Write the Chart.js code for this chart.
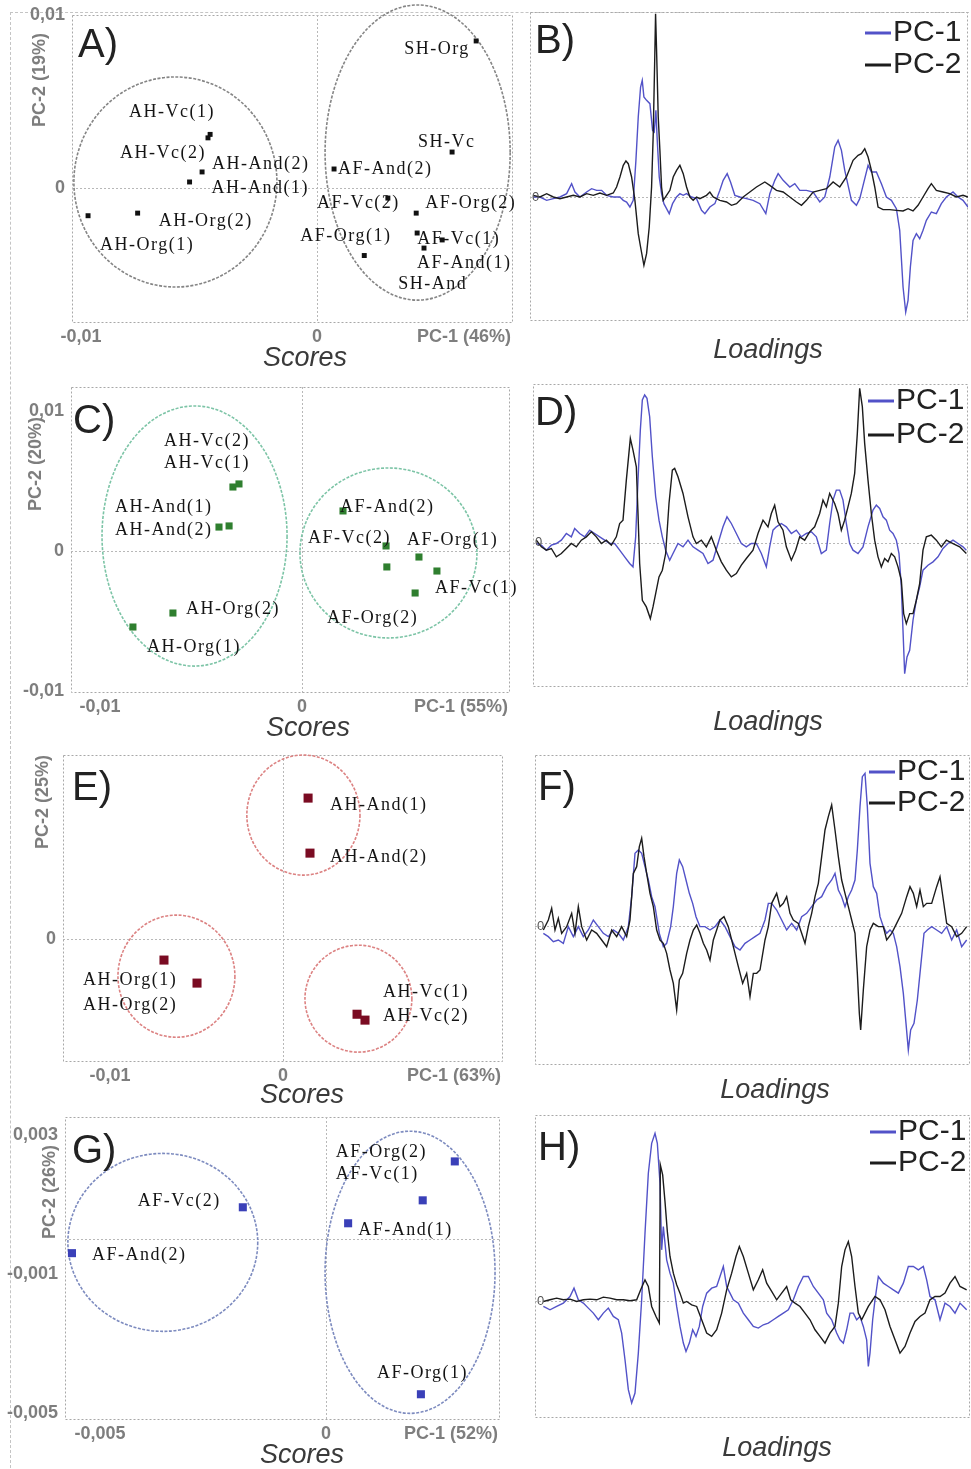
<!DOCTYPE html>
<html>
<head>
<meta charset="utf-8">
<title>PCA scores and loadings</title>
<script src="https://cdn.jsdelivr.net/npm/chart.js@4.4.1/dist/chart.umd.min.js"></script>
<style>
  body { margin: 0; background: #fff; }
  #fig { position: relative; width: 971px; height: 1469px; overflow: hidden; }
  #fig canvas { position: absolute; }
  #frame { position: absolute; left: 10px; top: 12px; width: 958px; height: 1460px;
           border-left: 1px dashed #c4c4c4; border-top: 1px dashed #c4c4c4; }
</style>
</head>
<body>
<div id="fig"><div id="frame"></div></div>
<script>
// ---------- scores (PC-1 / PC-2) ----------
const namesA = ['SH-Org', 'SH-Vc', 'AF-And(2)', 'AF-Vc(2)', 'AF-Org(2)', 'AF-Vc(1)', 'SH-And', 'AF-And(1)', 'AF-Org(1)',
                'AH-Vc(1)', 'AH-Vc(2)', 'AH-And(2)', 'AH-And(1)', 'AH-Org(2)', 'AH-Org(1)'];
const pc1A = [0.00674, 0.00572, 0.00072, 0.0030, 0.0042, 0.00424, 0.0053, 0.00453, 0.0020,
              -0.00453, -0.00462, -0.00487, -0.0054, -0.0076, -0.0097];
const pc2A = [0.0085, 0.00208, 0.0011, -0.00058, -0.00145, -0.0026, -0.0030, -0.00347, -0.0039,
              0.0031, 0.0029, 0.00093, 0.00035, -0.00145, -0.0016];
// confidence ellipses: [centre pc1, centre pc2, radius pc1, radius pc2]
const ellA = [[-0.006, 0.00035, 0.0043, 0.00607], [0.00426, 0.00205, 0.00392, 0.00853]];

const namesC = ['AH-Vc(2)', 'AH-Vc(1)', 'AH-And(1)', 'AH-And(2)', 'AH-Org(2)', 'AH-Org(1)',
                'AF-And(2)', 'AF-Vc(2)', 'AF-Org(1)', '', 'AF-Vc(1)', 'AF-Org(2)'];
const pc1C = [-0.00312, -0.00342, -0.00361, -0.00411, -0.00639, -0.00837,
              0.00203, 0.00416, 0.00579, 0.0042, 0.00668, 0.0056];
const pc2C = [0.00479, 0.00457, 0.00179, 0.00171, -0.00443, -0.00543,
              0.00286, 0.00036, -0.00043, -0.00114, -0.00143, -0.0030];
const ellC = [[-0.00532, 0.00107, 0.00458, 0.00929], [0.00428, -0.00014, 0.00438, 0.00607]];

const namesE = ['AH-And(1)', 'AH-And(2)', 'AH-Org(1)', 'AH-Org(2)', 'AH-Vc(1)', 'AH-Vc(2)'];
const pc1E = [0.00145, 0.00156, -0.00688, -0.00497, 0.00428, 0.00474];
const pc2E = [0.00815, 0.00497, -0.00121, -0.00254, -0.00434, -0.00468];
const ellE = [[0.00118, 0.00717, 0.00327, 0.00347], [-0.00616, -0.00214, 0.00338, 0.00353],
              [0.00436, -0.00344, 0.00309, 0.00309]];

const namesG = ['AF-Org(2)', 'AF-Vc(1)', 'AF-And(1)', 'AF-Vc(2)', 'AF-And(2)', 'AF-Org(1)'];
const pc1G = [0.00285, 0.00214, 0.00049, -0.00184, -0.00562, 0.0021];
const pc2G = [0.00224, 0.00112, 0.00046, 0.00092, -0.0004, -0.00446];
const ellG = [[-0.00361, -0.00009, 0.0021, 0.00256], [0.00186, -0.00095, 0.00188, 0.00406]];

// ---------- loadings (channel, loading x1000) ----------
const bPc1X = [40,60,80,100,120,140,155,165,180,200,215,230,245,260,280,300,310,320,330,340,348,355,362,367,372,380,390,398,403,408,
  412,418,425,432,440,448,458,470,480,490,500,515,530,545,555,570,585,600,610,622,632,645,660,680,700,720,738,750,765,775,
  790,810,825,840,860,880,900,915,930,945,955,965,975,985,995,1010,1020,1030,1045,1055,1070,1085,1100,1115,1130,1140,1150,1158,1165,1172,
  1180,1190,1200,1210,1220,1235,1250,1265,1280,1300,1315,1330,1345];
const bPc1 = [0,0,-10,-5,0,10,40,15,0,15,25,20,20,5,0,0,-10,-15,-30,-10,110,240,330,350,300,290,280,200,195,260,
  170,60,10,-20,-35,-50,-20,0,10,5,10,0,-5,-40,-50,-30,-20,20,50,70,45,5,0,-5,-10,-20,-50,10,50,70,
  50,30,40,20,20,15,-15,0,60,150,170,140,80,35,-10,-25,-5,35,95,75,75,40,0,-10,-35,-100,-270,-345,-310,-210,
  -130,-110,-125,-100,-70,-45,-50,-20,0,15,0,-10,-30];
const bPc2X = [40,60,80,100,120,140,160,180,200,220,240,260,280,290,300,310,318,325,335,345,355,362,372,380,388,395,400,404,407,410,
  415,420,425,430,440,450,460,470,480,490,500,510,520,530,540,560,570,580,600,620,635,650,670,690,710,735,750,770,790,810,
  830,845,860,880,900,920,940,960,980,1000,1015,1025,1035,1045,1055,1065,1075,1090,1110,1130,1150,1165,1180,1195,1210,1225,1235,1250,1270,1290,
  1310,1330,1345];
const bPc2 = [5,0,10,0,-5,0,5,0,10,5,12,5,12,30,60,95,108,100,60,-10,-110,-150,-205,-170,-90,30,190,390,550,440,
  240,140,30,-10,5,20,60,80,95,70,30,0,-10,0,-5,5,15,0,-10,-15,-25,-20,0,15,30,45,35,20,15,0,
  -15,-25,-10,15,20,25,45,30,60,110,125,130,145,120,80,30,-30,-38,-38,-40,-42,-35,-42,-25,0,25,40,20,15,10,
  0,5,0];

const dPc1X = [50,65,80,95,110,125,140,155,165,180,195,210,225,240,255,270,285,300,315,330,340,348,355,362,368,375,382,390,398,408,
  418,428,438,450,460,475,490,505,520,535,550,565,580,595,610,622,635,650,665,680,695,710,725,740,750,760,770,785,800,815,
  830,845,860,875,890,905,920,930,940,950,960,970,980,990,1000,1015,1030,1045,1060,1070,1080,1090,1100,1110,1120,1130,1138,1145,1150,1155,
  1162,1170,1180,1190,1200,1210,1225,1240,1255,1270,1285,1300,1315,1330,1340];
const dPc1 = [-3,-8,-23,-8,-3,7,27,17,42,27,17,37,27,17,7,-3,-3,-23,-43,-63,-73,17,187,337,427,442,432,377,257,137,
  67,17,-23,-53,-33,-3,-13,7,-13,-23,-33,-63,-53,-3,47,77,57,27,-3,-13,-3,-3,-33,-73,-13,37,47,57,47,27,
  37,17,27,32,17,-33,-23,57,127,157,157,127,57,-3,-23,-33,-13,47,97,112,102,77,67,37,27,7,-33,-133,-263,-393,
  -343,-323,-233,-173,-133,-83,-68,-58,-43,-18,-3,7,-3,-13,-23];
const dPc2X = [50,65,80,95,110,125,140,155,170,185,200,215,230,245,260,275,290,300,310,320,332,340,350,355,360,368,380,392,400,408,
  418,428,438,448,458,465,475,490,505,520,530,545,560,575,590,605,620,635,650,665,680,700,715,730,745,755,765,775,790,800,
  815,828,840,855,870,885,900,910,920,930,945,955,965,975,985,995,1005,1013,1020,1028,1035,1045,1055,1065,1075,1085,1095,1105,1115,1125,
  1135,1145,1152,1160,1170,1180,1190,1200,1210,1220,1235,1250,1265,1280,1300,1320,1340];
const dPc2 = [7,-13,-23,-18,-43,-33,-18,-3,-13,7,17,32,17,-3,7,-8,17,57,67,187,312,277,227,87,-63,-173,-193,-228,-193,-153,
  -103,-83,-33,117,217,222,197,147,77,17,-3,7,-13,17,-23,-58,-83,-103,-93,-68,-48,-23,27,67,47,87,112,62,37,-13,
  -53,-23,17,7,32,47,87,127,107,147,117,87,37,67,107,147,207,327,462,407,297,187,87,7,-43,-73,-48,-58,-33,-43,
  -73,-113,-213,-243,-213,-213,-173,-123,-23,17,22,7,-13,7,-3,-13,-33];

const fPc1X = [70,85,100,115,130,145,160,175,190,205,220,235,250,265,280,295,310,325,335,345,355,365,375,385,395,405,418,430,440,452,
  460,470,478,488,498,508,518,528,540,555,570,585,600,615,630,645,660,675,690,705,720,735,745,755,770,785,800,815,830,845,
  860,875,890,905,920,935,945,955,965,975,985,995,1005,1012,1020,1027,1035,1042,1050,1060,1070,1080,1090,1100,1110,1120,1130,1140,1150,1158,
  1165,1172,1182,1192,1202,1212,1222,1235,1250,1265,1280,1295,1310,1325,1340];
const fPc1 = [-22,-32,-47,-42,-52,-2,-32,-2,-32,-12,18,-2,-22,-32,-12,-22,-42,-2,88,218,228,218,178,138,88,58,-22,-62,-52,-2,
  58,158,198,178,138,98,68,28,-2,-2,-12,-2,18,-2,-32,-62,-72,-52,-42,-32,-22,18,68,68,48,18,-12,8,-12,28,
  38,58,78,88,118,138,158,108,88,58,88,108,138,228,358,448,458,358,188,118,98,28,-2,-22,-12,-22,-62,-122,-202,-292,
  -372,-312,-292,-222,-122,-22,-12,-2,-12,-22,-2,-42,-12,-62,-42];
const fPc2X = [70,85,95,105,115,125,140,155,165,175,185,200,215,230,245,260,275,290,305,320,330,340,350,358,365,372,380,390,400,410,
  420,430,440,450,460,470,478,488,500,510,520,530,540,550,560,570,580,590,600,612,625,640,655,668,680,690,700,710,720,735,
  745,755,770,780,790,800,810,820,835,845,855,865,875,885,895,905,915,925,935,945,955,965,975,985,995,1005,1012,1018,1022,1030,
  1040,1050,1060,1075,1090,1100,1115,1130,1145,1160,1170,1180,1190,1200,1210,1220,1235,1250,1260,1270,1280,1295,1310,1325,1340];
const fPc2 = [-12,18,53,-12,23,-22,-2,38,-22,58,-2,-42,-12,-22,-42,-62,-12,-32,-2,-32,18,158,178,238,263,208,158,98,58,-12,
  -42,-52,-82,-132,-172,-252,-162,-142,-82,-42,-12,3,-22,-52,-72,-102,-42,-12,18,28,-2,-62,-122,-172,-142,-212,-142,-142,-132,-42,
  -2,68,98,58,68,88,38,18,8,-22,-52,-2,38,88,128,208,288,328,363,288,208,138,98,58,18,-22,-142,-262,-312,-192,
  -62,-12,8,-2,-2,-42,-22,8,38,88,118,98,58,108,58,68,68,118,148,78,8,-2,-32,-22,-2];

const hPc1X = [70,90,110,130,150,162,175,190,205,220,235,250,265,280,295,305,315,325,335,345,355,365,375,385,395,405,412,420,425,430,
  440,450,460,470,480,490,498,508,518,528,538,548,560,575,590,600,610,620,630,640,655,670,685,700,715,730,745,760,775,790,
  805,820,835,850,865,880,895,910,920,935,950,960,970,980,990,1000,1010,1020,1030,1040,1045,1050,1058,1065,1075,1090,1105,1120,1135,1150,
  1165,1180,1195,1210,1220,1230,1245,1260,1275,1290,1305,1320,1340];
const hPc1 = [-15,-25,-15,-5,15,40,5,-5,-20,-35,-55,-35,-20,-45,-55,-95,-175,-265,-305,-275,-155,5,205,385,475,505,475,355,155,225,
  125,85,55,-15,-75,-125,-150,-125,-85,-105,-75,-15,25,40,45,75,105,45,25,5,-5,-35,-55,-75,-80,-70,-65,-55,-45,-35,
  -25,5,45,75,75,45,25,5,-35,-55,-95,-115,-125,-85,-35,-35,-55,-45,-75,-115,-195,-155,-55,5,75,55,45,35,25,55,
  105,105,95,105,65,15,5,-55,-5,-15,-35,-5,-25];
const hPc2X = [70,90,110,130,150,170,190,210,230,250,270,290,310,330,350,362,375,385,395,408,418,421,428,435,442,450,460,470,480,490,
  500,515,530,545,560,575,590,605,620,635,648,658,670,685,700,715,728,740,755,770,785,800,812,825,840,855,870,885,900,915,
  930,945,955,965,975,985,995,1005,1015,1025,1035,1045,1055,1065,1080,1095,1110,1125,1140,1155,1170,1185,1200,1215,1230,1245,1260,1275,1290,1305,
  1320,1340];
const hPc2 = [0,5,10,5,7,0,5,7,5,13,10,5,5,2,5,35,65,45,-15,-45,-65,410,380,300,210,135,85,50,25,-5,
  0,-10,-15,-55,-95,-105,-85,-35,35,85,135,165,135,85,35,65,95,55,30,5,25,45,5,-5,-15,-35,-55,-85,-105,-125,
  -95,-75,-5,105,155,180,135,45,-35,-55,-35,-15,0,15,5,-25,-75,-115,-155,-135,-95,-60,-45,-35,5,15,15,25,55,75,
  45,35];

// ---------- drawing ----------
const fig = document.getElementById('fig');
const SANS = '"Liberation Sans", Arial, sans-serif';
const SERIF = '"Liberation Serif", "Times New Roman", serif';
const BLUE = '#5252c8';
const INK = '#1c1c1c';
const AXIS_GREY = '#7e7e7e';

const toPoints = (xs, ys) => xs.map((x, i) => ({ x: x, y: ys[i] }));
const fmt = v => String(v).replace('.', ',');

function addCanvas(r) {
  const c = document.createElement('canvas');
  c.width = r.w;
  c.height = r.h;
  c.style.left = r.x + 'px';
  c.style.top = r.y + 'px';
  fig.appendChild(c);
  return c;
}

function padFor(r, b) {
  return { left: b.l - r.x, top: b.t - r.y, right: r.x + r.w - b.r, bottom: r.y + r.h - b.b };
}

function dotted(ctx, color) {
  ctx.strokeStyle = color;
  ctx.lineWidth = 1;
  ctx.setLineDash([2, 2]);
}

function drawFrame(chart) {
  const ctx = chart.ctx, a = chart.chartArea;
  ctx.save();
  dotted(ctx, '#a8a8a8');
  ctx.strokeRect(a.left + 0.5, a.top + 0.5, a.right - a.left - 1, a.bottom - a.top - 1);
  ctx.restore();
}

function hZero(chart) {
  const ctx = chart.ctx, a = chart.chartArea, y = Math.round(chart.scales.y.getPixelForValue(0)) + 0.5;
  ctx.save();
  dotted(ctx, '#b8b8b8');
  ctx.beginPath(); ctx.moveTo(a.left, y); ctx.lineTo(a.right, y); ctx.stroke();
  ctx.restore();
}

function vZero(chart) {
  const ctx = chart.ctx, a = chart.chartArea, x = Math.round(chart.scales.x.getPixelForValue(0)) + 0.5;
  ctx.save();
  dotted(ctx, '#b8b8b8');
  ctx.beginPath(); ctx.moveTo(x, a.top); ctx.lineTo(x, a.bottom); ctx.stroke();
  ctx.restore();
}

function text(ctx, s, x, y, font, color, align) {
  ctx.font = font;
  ctx.fillStyle = color;
  ctx.textAlign = align || 'left';
  ctx.textBaseline = 'middle';
  ctx.fillText(s, x, y);
}

// score plot: frame, zero lines, ellipses, tick labels, sample names
function scoresDecor(p) {
  return {
    id: 'scoresDecor',
    beforeDatasetsDraw(chart) {
      const ctx = chart.ctx, xs = chart.scales.x, ys = chart.scales.y, a = chart.chartArea;
      drawFrame(chart);
      hZero(chart);
      vZero(chart);
      ctx.save();
      ctx.strokeStyle = p.ring;
      ctx.lineWidth = 1.6;
      ctx.setLineDash([3, 1.5]);
      p.ellipses.forEach(e => {
        const cx = xs.getPixelForValue(e[0]), cy = ys.getPixelForValue(e[1]);
        const rx = xs.getPixelForValue(e[0] + e[2]) - cx, ry = cy - ys.getPixelForValue(e[1] + e[3]);
        ctx.beginPath();
        ctx.ellipse(cx, cy, rx, ry, 0, 0, Math.PI * 2);
        ctx.stroke();
      });
      ctx.restore();

      ctx.save();
      const tickFont = 'bold 18px ' + SANS;
      p.xTicks.forEach(v => text(ctx, fmt(v), xs.getPixelForValue(v), a.bottom + 14, tickFont, AXIS_GREY, 'center'));
      p.yTicks.forEach(v => text(ctx, fmt(v), a.left - 7, ys.getPixelForValue(v), tickFont, AXIS_GREY, 'right'));
      text(ctx, p.xTitle, a.right - 2, a.bottom + 14, tickFont, AXIS_GREY, 'right');
      ctx.translate(-p.rect.x, -p.rect.y);
      ctx.save();
      ctx.translate(p.yTitleAt[0], p.yTitleAt[1]);
      ctx.rotate(-Math.PI / 2);
      text(ctx, p.yTitle, 0, 0, tickFont, AXIS_GREY, 'center');
      ctx.restore();
      text(ctx, p.caption, p.captionAt[0], p.captionAt[1], 'italic 27px ' + SANS, '#3a3a3a', 'center');
      ctx.font = '40px ' + SANS;
      ctx.fillStyle = '#222';
      ctx.textAlign = 'left';
      ctx.textBaseline = 'alphabetic';
      ctx.fillText(p.letter, p.letterAt[0], p.letterAt[1]);
      ctx.restore();
    },
    afterDatasetsDraw(chart) {
      const ctx = chart.ctx, xs = chart.scales.x, ys = chart.scales.y;
      ctx.save();
      ctx.letterSpacing = '1.5px';
      p.names.forEach((n, i) => {
        if (!n) return;
        const o = p.offsets[i];
        text(ctx, n, xs.getPixelForValue(p.pc1[i]) + o[0], ys.getPixelForValue(p.pc2[i]) + o[1],
             '18px ' + SERIF, '#141414', 'left');
      });
      ctx.restore();
    }
  };
}

// loadings plot: frame, zero line, legend, panel letter
function loadingsDecor(p) {
  return {
    id: 'loadingsDecor',
    beforeDatasetsDraw(chart) {
      drawFrame(chart);
      hZero(chart);
    },
    afterDatasetsDraw(chart) {
      const ctx = chart.ctx, a = chart.chartArea;
      ctx.save();
      text(ctx, '0', a.left + 2, chart.scales.y.getPixelForValue(0), '13px ' + SANS, '#555', 'left');
      ctx.translate(-p.rect.x, -p.rect.y);
      [['PC-1', BLUE], ['PC-2', INK]].forEach((s, i) => {
        const lx = p.legendAt[i][0], ly = p.legendAt[i][1];
        ctx.strokeStyle = s[1];
        ctx.lineWidth = 3;
        ctx.beginPath(); ctx.moveTo(lx, ly); ctx.lineTo(lx + 26, ly); ctx.stroke();
        text(ctx, s[0], lx + 28, ly, '30px ' + SANS, '#222', 'left');
      });
      text(ctx, p.caption, p.captionAt[0], p.captionAt[1], 'italic 27px ' + SANS, '#3a3a3a', 'center');
      ctx.font = '40px ' + SANS;
      ctx.fillStyle = '#222';
      ctx.textAlign = 'left';
      ctx.textBaseline = 'alphabetic';
      ctx.fillText(p.letter, p.letterAt[0], p.letterAt[1]);
      ctx.restore();
    }
  };
}

function scoresChart(p) {
  new Chart(addCanvas(p.rect), {
    type: 'scatter',
    data: {
      datasets: [{
        data: toPoints(p.pc1, p.pc2),
        pointStyle: 'rect',
        pointRadius: p.markerRadius,
        backgroundColor: p.marker,
        borderWidth: 0
      }]
    },
    options: {
      responsive: false,
      animation: false,
      devicePixelRatio: 1,
      layout: { padding: padFor(p.rect, p.box) },
      plugins: { legend: { display: false }, tooltip: { enabled: false } },
      scales: {
        x: { type: 'linear', min: p.xRange[0], max: p.xRange[1], display: false },
        y: { type: 'linear', min: p.yRange[0], max: p.yRange[1], display: false }
      }
    },
    plugins: [scoresDecor(p)]
  });
}

function loadingsChart(p) {
  new Chart(addCanvas(p.rect), {
    type: 'line',
    data: {
      datasets: [
        { label: 'PC-2', data: toPoints(p.pc2x, p.pc2), borderColor: INK, borderWidth: 1.4, pointRadius: 0, order: 0 },
        { label: 'PC-1', data: toPoints(p.pc1x, p.pc1), borderColor: BLUE, borderWidth: 1.4, pointRadius: 0, order: 1 }
      ]
    },
    options: {
      responsive: false,
      animation: false,
      devicePixelRatio: 1,
      layout: { padding: padFor(p.rect, p.box) },
      plugins: { legend: { display: false }, tooltip: { enabled: false } },
      scales: {
        x: { type: 'linear', min: p.xRange[0], max: p.xRange[1], display: false },
        y: { type: 'linear', min: p.yRange[0], max: p.yRange[1], display: false }
      }
    },
    plugins: [loadingsDecor(p)]
  });
}

scoresChart({
  rect: { x: 0, y: 0, w: 520, h: 372 }, box: { l: 72, t: 15, r: 513, b: 323 },
  xRange: [-0.01038, 0.0083], yRange: [-0.0078, 0.01],
  xTicks: [-0.01, 0], yTicks: [0.01, 0],
  xTitle: 'PC-1 (46%)', yTitle: 'PC-2 (19%)', yTitleAt: [40, 80],
  caption: 'Scores', captionAt: [305, 358], letter: 'A)', letterAt: [78, 57],
  names: namesA, pc1: pc1A, pc2: pc2A, ellipses: ellA,
  offsets: [[-72, 8], [-34, -10], [4, 0], [-71, 5], [9, -10], [0, 6], [-44, 44], [-7, 15], [-64, -19],
            [-81, -22], [-88, 15], [10, -8], [22, 6], [21, 8], [12, 30]],
  marker: '#111', markerRadius: 3.5, ring: '#858585'
});

scoresChart({
  rect: { x: 0, y: 372, w: 520, h: 370 }, box: { l: 71, t: 387, r: 510, b: 693 },
  xRange: [-0.011436, 0.010297], yRange: [-0.010143, 0.011714],
  xTicks: [-0.01, 0], yTicks: [0.01, 0, -0.01],
  xTitle: 'PC-1 (55%)', yTitle: 'PC-2 (20%)', yTitleAt: [36, 464],
  caption: 'Scores', captionAt: [308, 728], letter: 'C)', letterAt: [73, 433],
  names: namesC, pc1: pc1C, pc2: pc2C, ellipses: ellC,
  offsets: [[-75, -43], [-69, -24], [-114, -19], [-104, 3], [13, -4], [14, 20],
            [-3, -4], [-78, -8], [-12, -17], [0, 0], [-2, 17], [-88, 25]],
  marker: '#2f7f2f', markerRadius: 5, ring: '#7cc4a6'
});

scoresChart({
  rect: { x: 0, y: 742, w: 520, h: 368 }, box: { l: 63, t: 755, r: 503, b: 1062 },
  xRange: [-0.012717, 0.012717], yRange: [-0.0071, 0.01064],
  xTicks: [-0.01, 0], yTicks: [0],
  xTitle: 'PC-1 (63%)', yTitle: 'PC-2 (25%)', yTitleAt: [43, 802],
  caption: 'Scores', captionAt: [302, 1095], letter: 'E)', letterAt: [72, 800],
  names: namesE, pc1: pc1E, pc2: pc2E, ellipses: ellE,
  offsets: [[22, 7], [20, 4], [-81, 20], [-114, 22], [26, -22], [18, -4]],
  marker: '#7a0b22', markerRadius: 6.4, ring: '#dc8282'
});

scoresChart({
  rect: { x: 0, y: 1110, w: 520, h: 359 }, box: { l: 65, t: 1117, r: 500, b: 1420 },
  xRange: [-0.005774, 0.00385], yRange: [-0.005201, 0.003518],
  xTicks: [-0.005, 0], yTicks: [0.003, -0.001, -0.005],
  xTitle: 'PC-1 (52%)', yTitle: 'PC-2 (26%)', yTitleAt: [50, 1192],
  caption: 'Scores', captionAt: [302, 1455], letter: 'G)', letterAt: [72, 1163],
  names: namesG, pc1: pc1G, pc2: pc2G, ellipses: ellG,
  offsets: [[-119, -9], [-87, -26], [10, 7], [-105, -6], [20, 2], [-44, -21]],
  marker: '#3a40b8', markerRadius: 5.7, ring: '#7d8bbf'
});

loadingsChart({
  rect: { x: 520, y: 0, w: 451, h: 372 }, box: { l: 530, t: 12, r: 968, b: 321 },
  xRange: [30, 1345], yRange: [-372, 555],
  pc1x: bPc1X, pc1: bPc1, pc2x: bPc2X, pc2: bPc2,
  legendAt: [[865, 33], [865, 65]], caption: 'Loadings', captionAt: [768, 350],
  letter: 'B)', letterAt: [535, 53]
});

loadingsChart({
  rect: { x: 520, y: 372, w: 451, h: 370 }, box: { l: 533, t: 384, r: 968, b: 687 },
  xRange: [40, 1345], yRange: [-433, 475],
  pc1x: dPc1X, pc1: dPc1, pc2x: dPc2X, pc2: dPc2,
  legendAt: [[868, 401], [868, 435]], caption: 'Loadings', captionAt: [768, 722],
  letter: 'D)', letterAt: [535, 425]
});

loadingsChart({
  rect: { x: 520, y: 742, w: 451, h: 368 }, box: { l: 535, t: 755, r: 970, b: 1065 },
  xRange: [45, 1350], yRange: [-417, 513],
  pc1x: fPc1X, pc1: fPc1, pc2x: fPc2X, pc2: fPc2,
  legendAt: [[869, 772], [869, 803]], caption: 'Loadings', captionAt: [775, 1090],
  letter: 'F)', letterAt: [538, 800]
});

loadingsChart({
  rect: { x: 520, y: 1110, w: 451, h: 359 }, box: { l: 535, t: 1115, r: 970, b: 1418 },
  xRange: [45, 1350], yRange: [-350, 560],
  pc1x: hPc1X, pc1: hPc1, pc2x: hPc2X, pc2: hPc2,
  legendAt: [[870, 1132], [870, 1163]], caption: 'Loadings', captionAt: [777, 1448],
  letter: 'H)', letterAt: [538, 1160]
});
</script>
</body>
</html>
